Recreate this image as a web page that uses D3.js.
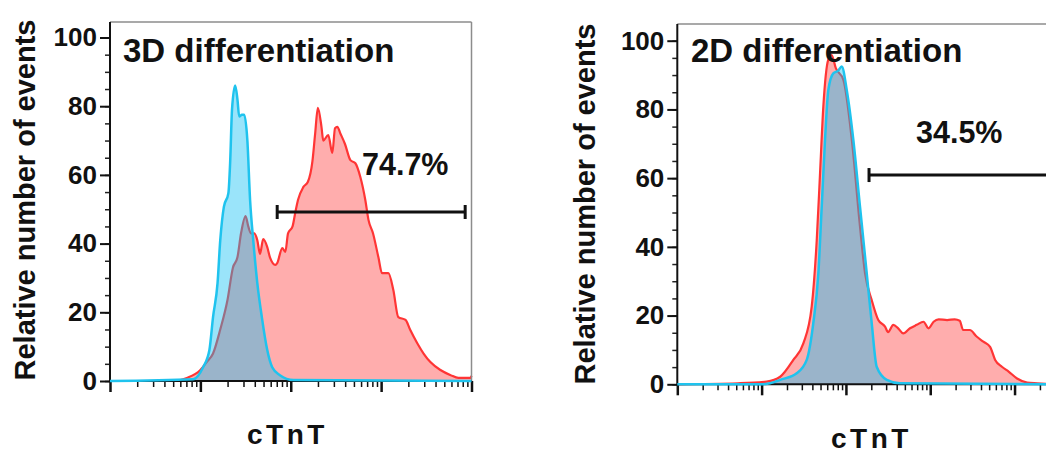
<!DOCTYPE html>
<html>
<head>
<meta charset="utf-8">
<script src="https://cdn.jsdelivr.net/npm/d3@7"></script>
<style>
  body { margin: 0; background: #fff; }
  svg { display: block; }
  text { font-family: 'Liberation Sans', Arial, sans-serif; font-weight: bold; fill: #111; }
</style>
</head>
<body>
<div id="graf"></div>
<script>
// I. Datos (x en décadas log10 de fluorescencia, y = % relativo de eventos)
red3dX = [1.0, 1.70, 1.85, 2.0, 2.07, 2.14, 2.22, 2.30, 2.36, 2.41, 2.45, 2.50, 2.53, 2.56, 2.596, 2.63, 2.66, 2.695, 2.74, 2.77, 2.83, 2.85, 2.906, 2.94, 2.97, 3.02, 3.05, 3.08, 3.14, 3.19, 3.24, 3.27, 3.30, 3.34, 3.36, 3.415, 3.46, 3.49, 3.515, 3.55, 3.60, 3.66, 3.715, 3.77, 3.825, 3.86, 3.91, 3.97, 4.01, 4.08, 4.135, 4.19, 4.27, 4.32, 4.40, 4.47, 4.545, 4.656, 4.77, 4.855, 4.99, 5.0]
red3dY = [0, 0, 0.9, 3.2, 5.5, 8, 15, 23.6, 33, 36, 43, 48, 45, 43, 43, 41, 37, 41.3, 39, 36, 33.8, 34.3, 38.7, 37.6, 43, 45, 49, 52.7, 56.5, 58, 64, 72, 79.5, 74, 70, 71.6, 66.4, 73.6, 74, 72, 69, 64.3, 63.4, 59.4, 52.7, 46.9, 43, 36, 31.4, 31.4, 26.5, 18.6, 17.8, 15, 11, 8, 5.5, 3.2, 1.7, 0.9, 0.9, 1.5]

cyan3dX = [1.0, 1.92, 2.03, 2.10, 2.14, 2.19, 2.22, 2.26, 2.31, 2.33, 2.35, 2.385, 2.41, 2.43, 2.46, 2.485, 2.52, 2.55, 2.585, 2.63, 2.68, 2.74, 2.795, 2.88, 3.03, 5.0]
cyan3dY = [0, 0.5, 4, 9, 18.6, 28.5, 41, 50.7, 54.7, 64, 79, 86, 82, 77, 77.5, 77.5, 70, 52.7, 41, 28.5, 18.6, 9, 4, 1.7, 0.3, 0]

red2dX = [1.0, 1.72, 2.06, 2.22, 2.376, 2.495, 2.594, 2.654, 2.693, 2.732, 2.79, 2.83, 2.88, 2.97, 3.07, 3.167, 3.227, 3.306, 3.384, 3.464, 3.50, 3.562, 3.62, 3.68, 3.76, 3.84, 3.92, 3.98, 4.04, 4.10, 4.20, 4.29, 4.35, 4.39, 4.47, 4.55, 4.63, 4.71, 4.77, 4.85, 4.93, 5.03, 5.15, 5.27, 5.5]
red2dY = [0, 0.3, 0.8, 2.2, 7.1, 11.9, 22.6, 42, 61.4, 80.8, 94.4, 95.8, 92, 88.6, 71.1, 45.9, 32.3, 24.5, 18.7, 16.8, 15.2, 17.3, 16.3, 14.8, 16.3, 17.3, 18.2, 16.3, 18.2, 18.9, 18.7, 18.9, 18.5, 15.8, 15.8, 13.9, 12.4, 10.9, 7.1, 5.1, 3.7, 1.7, 0.5, 0.3, 0]

cyan2dX = [1.0, 2.0, 2.10, 2.22, 2.416, 2.535, 2.613, 2.673, 2.713, 2.752, 2.791, 2.85, 2.91, 2.95, 3.01, 3.088, 3.167, 3.247, 3.306, 3.365, 3.484, 3.64, 5.5]
cyan2dY = [0, 0, 0.3, 1.3, 3.2, 7.1, 17.8, 32.3, 51.7, 71.1, 85.6, 90.5, 91.3, 92.5, 85.6, 71.1, 51.7, 32.3, 17.8, 5.1, 1.3, 0.3, 0]

yTicks = [0, 20, 40, 60, 80, 100]
titulos = ['3D differentiation', '2D differentiation']
porcentajes = ['74.7%', '34.5%']
gates = [[2.85, 4.93, 49.2], [3.274, 5.5, 60.9]]   // [inicio, fin, altura]
yLabel = 'Relative number of events'
xLabel = 'cTnT'

// II. Configuración
svg = d3.select('#graf').append('svg')
        .attr('width', 1046)
        .attr('height', 453)

rojoLinea = '#ff3535'
rojoRelleno = 'rgba(255, 60, 60, 0.42)'
cianLinea = '#1fc3ee'
cianRelleno = 'rgba(14, 190, 243, 0.42)'

paneles = [
  { redX: red3dX, redY: red3dY, cyanX: cyan3dX, cyanY: cyan3dY,
    left: 110, right: 471.5, domMax: 5, top: 22, y0: 381, y100: 37.5,
    titulo: titulos[0], pct: porcentajes[0], gate: gates[0],
    tituloX: 123, pctX: 362, pctY: 175, yLabX: 35, yLabY: 200, xLabX: 247, xLabY: 444 },
  { redX: red2dX, redY: red2dY, cyanX: cyan2dX, cyanY: cyan2dY,
    left: 677.3, right: 1056.7, domMax: 5.5, top: 24, y0: 384.3, y100: 40.7,
    titulo: titulos[1], pct: porcentajes[1], gate: gates[1],
    tituloX: 691, pctX: 916, pctY: 143, yLabX: 595, yLabY: 204, xLabX: 831, xLabY: 448 }
]

// III. Dibujo de cada panel
function panel(p) {
  x = d3.scaleLog()
        .domain([10, Math.pow(10, p.domMax)])
        .range([p.left, p.right])
  y = d3.scaleLinear()
        .domain([0, 100])
        .range([p.y0, p.y100])

  g = svg.append('g')

  area = d3.area()
           .x(d => x(Math.pow(10, d[0])))
           .y0(y(0))
           .y1(d => y(d[1]))
           .curve(d3.curveMonotoneX)
  linea = d3.line()
            .x(d => x(Math.pow(10, d[0])))
            .y(d => y(d[1]))
            .curve(d3.curveMonotoneX)

  rojo = p.redX.map((v, i) => [v, p.redY[i]])
  cian = p.cyanX.map((v, i) => [v, p.cyanY[i]])

  g.append('path').attr('d', area(rojo)).attr('fill', rojoRelleno)
  g.append('path').attr('d', linea(rojo))
   .attr('fill', 'none').attr('stroke', rojoLinea).attr('stroke-width', 2.2)
  g.append('path').attr('d', area(cian)).attr('fill', cianRelleno)

  // marco gris
  g.append('line')
   .attr('x1', p.left).attr('x2', Math.min(p.right, 1046)).attr('y1', p.top).attr('y2', p.top)
   .attr('stroke', '#8c8c8c').attr('stroke-width', 1.5)
  if (p.right < 1046) {
    g.append('line')
     .attr('x1', p.right).attr('x2', p.right).attr('y1', p.top).attr('y2', p.y0)
     .attr('stroke', '#8c8c8c').attr('stroke-width', 1.5)
  }

  // eje y
  yMinor = d3.axisLeft(y).tickValues(d3.range(0, 101, 5)).tickSize(5).tickFormat('')
  g.append('g').attr('transform', `translate(${p.left}, 0)`).call(yMinor)
   .call(s => s.select('.domain').remove())
   .selectAll('line').attr('stroke', '#222').attr('stroke-width', 1.5)
  yMajor = d3.axisLeft(y).tickValues(yTicks).tickSize(10).tickPadding(3)
  yg = g.append('g').attr('transform', `translate(${p.left}, 0)`).call(yMajor)
  yg.select('.domain').remove()
  yg.selectAll('line').attr('stroke', '#111').attr('stroke-width', 2)
  yg.selectAll('text').attr('font-size', 26).style('font-family', "'Liberation Sans', Arial, sans-serif")
    .style('font-weight', 'bold').attr('fill', '#111')

  // eje x (log)
  xAxis = d3.axisBottom(x).tickSize(5).tickFormat('')
  xg = g.append('g').attr('transform', `translate(0, ${p.y0})`).call(xAxis)
  xg.select('.domain').remove()
  xg.selectAll('.tick line')
    .attr('stroke', '#111')
    .attr('stroke-width', d => Math.abs(Math.log10(d) % 1) < 1e-6 ? 2.5 : 1.5)
    .attr('y2', d => Math.abs(Math.log10(d) % 1) < 1e-6 ? 11 : 6)

  // líneas de ejes
  g.append('line').attr('x1', p.left).attr('x2', p.left).attr('y1', p.top).attr('y2', p.y0)
   .attr('stroke', '#111').attr('stroke-width', 2)
  g.append('line').attr('x1', p.left).attr('x2', Math.min(p.right, 1046)).attr('y1', p.y0).attr('y2', p.y0)
   .attr('stroke', '#111').attr('stroke-width', 2)

  // curva cian encima
  g.append('path').attr('d', linea(cian))
   .attr('fill', 'none').attr('stroke', cianLinea).attr('stroke-width', 2.5)

  // gate
  gx1 = x(Math.pow(10, p.gate[0]))
  gx2 = x(Math.pow(10, p.gate[1]))
  gy = y(p.gate[2])
  g.append('line').attr('x1', gx1).attr('x2', gx2).attr('y1', gy).attr('y2', gy)
   .attr('stroke', '#111').attr('stroke-width', 3)
  ;[gx1, gx2].forEach(v => {
    g.append('line').attr('x1', v).attr('x2', v).attr('y1', gy - 7).attr('y2', gy + 7)
     .attr('stroke', '#111').attr('stroke-width', 3)
  })

  // textos
  g.append('text').attr('x', p.tituloX).attr('y', 62).attr('font-size', 33).text(p.titulo)
  g.append('text').attr('x', p.pctX).attr('y', p.pctY).attr('font-size', 30.5).text(p.pct)
  g.append('text')
   .attr('transform', `translate(${p.yLabX}, ${p.yLabY}) rotate(-90)`)
   .attr('text-anchor', 'middle').attr('font-size', 29).text(yLabel)
  g.append('text').attr('x', p.xLabX).attr('y', p.xLabY).attr('font-size', 28)
   .attr('letter-spacing', '3.5px').text(xLabel)
}

paneles.forEach(panel)
</script>
</body>
</html>
